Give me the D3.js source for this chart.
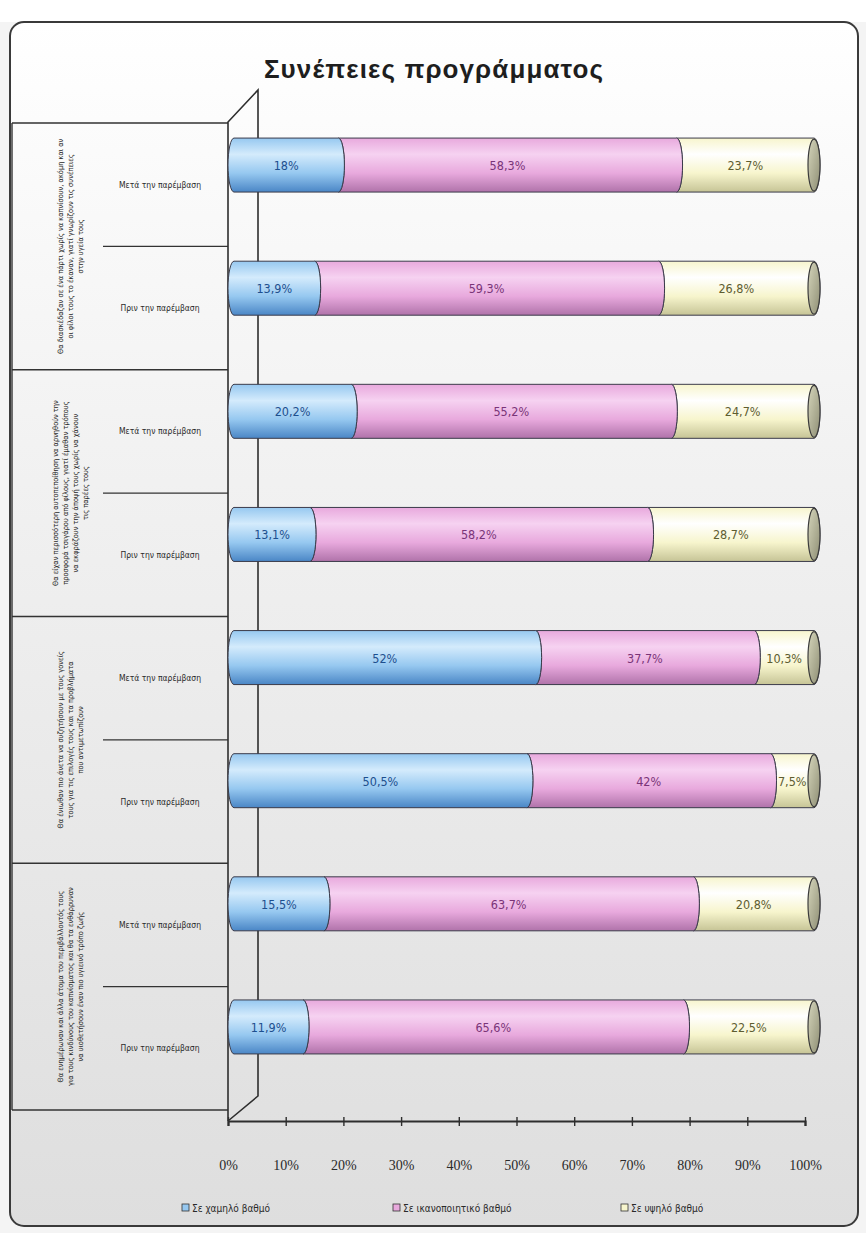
<!DOCTYPE html>
<html>
<head>
<meta charset="utf-8">
<script src="https://cdn.jsdelivr.net/npm/d3@7"></script>
<style>
  body { margin: 0; background: #ffffff; }
  svg { display: block; }
</style>
</head>
<body>
<svg id="chart" width="866" height="1233"></svg>
<script>
// ---- data ----
const chartTitle = "Συνέπειες προγράμματος";
const seriesNames = ["Σε χαμηλό βαθμό", "Σε ικανοποιητικό βαθμό", "Σε υψηλό βαθμό"];
const rowLabels = [
  "Μετά την παρέμβαση", "Πριν την παρέμβαση",
  "Μετά την παρέμβαση", "Πριν την παρέμβαση",
  "Μετά την παρέμβαση", "Πριν την παρέμβαση",
  "Μετά την παρέμβαση", "Πριν την παρέμβαση"
];
const groupLabels = [
  ["Θα διασκέδαζαν σε ένα πάρτι χωρίς να καπνίσουν, ακόμη και αν",
   "οι φίλοι τους το έκαναν, γιατί γνωρίζουν τις συνέπειες",
   "στην υγεία τους"],
  ["Θα είχαν περισσότερη αυτοπεποίθηση να αρνηθούν την",
   "προσφορά τσιγάρου από φίλους, γιατί έμαθαν τρόπους",
   "να εκφράζουν την άποψή τους χωρίς να χάνουν",
   "τις παρέες τους"],
  ["Θα ένιωθαν πιο άνετα να συζητήσουν με τους γονείς",
   "τους για τις επιλογές τους και τα προβλήματα",
   "που αντιμετωπίζουν"],
  ["Θα ενημέρωναν και άλλα άτομα του περιβάλλοντός τους",
   "για τους κινδύνους του καπνίσματος και θα τα ενθάρρυναν",
   "να υιοθετήσουν έναν πιο υγιεινό τρόπο ζωής"]
];
const lowValues  = [18, 13.9, 20.2, 13.1, 52, 50.5, 15.5, 11.9];
const midValues  = [58.3, 59.3, 55.2, 58.2, 37.7, 42, 63.7, 65.6];
const highValues = [23.7, 26.8, 24.7, 28.7, 10.3, 7.5, 20.8, 22.5];
const tickValues = [0, 10, 20, 30, 40, 50, 60, 70, 80, 90, 100];

// ---- setup ----
const svg = d3.select("#chart");
const defs = svg.append("defs");
const rowIds = rowLabels.map((d, i) => i);

const colors = [
  { light: "#d4ebfc", mid: "#96c8f0", dark: "#4a86c6", text: "#1d4f8e" },
  { light: "#f6d2f1", mid: "#e8a9dd", dark: "#b073aa", text: "#7a3478" },
  { light: "#ffffff", mid: "#f7f5cd", dark: "#c6c496", text: "#5e5d30" }
];

// background gradient of the chart area
const bg = defs.append("linearGradient").attr("id", "bgGrad")
  .attr("x1", 0).attr("y1", 0).attr("x2", 0).attr("y2", 1);
bg.append("stop").attr("offset", 0).attr("stop-color", "#ffffff");
bg.append("stop").attr("offset", 0.35).attr("stop-color", "#f2f2f2");
bg.append("stop").attr("offset", 1).attr("stop-color", "#dedede");

colors.forEach((c, i) => {
  const g = defs.append("linearGradient").attr("id", "seg" + i)
    .attr("x1", 0).attr("y1", 0).attr("x2", 0).attr("y2", 1);
  g.append("stop").attr("offset", 0).attr("stop-color", c.mid);
  g.append("stop").attr("offset", 0.3).attr("stop-color", c.light);
  g.append("stop").attr("offset", 0.65).attr("stop-color", c.mid);
  g.append("stop").attr("offset", 1).attr("stop-color", c.dark);
});
const capGrad = defs.append("linearGradient").attr("id", "capGrad")
  .attr("x1", 0).attr("y1", 0).attr("x2", 1).attr("y2", 1);
capGrad.append("stop").attr("offset", 0).attr("stop-color", "#d6d6bc");
capGrad.append("stop").attr("offset", 1).attr("stop-color", "#8e8e74");

// page & frame
svg.append("rect").attr("x", 0).attr("y", 0).attr("width", 866).attr("height", 1233)
  .attr("fill", "#f4f4f4");
svg.append("rect").attr("x", 0).attr("y", 0).attr("width", 866).attr("height", 22)
  .attr("fill", "#ffffff");
svg.append("rect").attr("x", 10).attr("y", 22).attr("width", 848).attr("height", 1204)
  .attr("rx", 14).attr("ry", 14)
  .attr("fill", "url(#bgGrad)").attr("stroke", "#3a3a3a").attr("stroke-width", 2);

// title
svg.append("text")
  .attr("x", 434).attr("y", 78)
  .attr("text-anchor", "middle")
  .attr("font-family", "'Liberation Sans', Arial, sans-serif")
  .attr("font-weight", "bold")
  .attr("font-size", 26)
  .attr("letter-spacing", 1.1)
  .attr("fill", "#1e1e1e")
  .text(chartTitle);

// ---- scales ----
const xAxisScale = d3.scaleLinear().domain([0, 100]).range([228, 805]);
const xBar = d3.scaleLinear().domain([0, 100]).range([234, 814]);
const yBar = d3.scaleBand().domain(rowIds).range([103.5, 1088.5]);
const yFront = d3.scaleBand().domain(rowIds).range([123, 1110]);
const barH = 54;
const rx = 6;

// ---- left category table ----
const table = svg.append("g").attr("stroke", "#333").attr("fill", "none");
const groupCount = groupLabels.length;
for (let g = 0; g <= groupCount; g++) {
  const y = g < groupCount ? yFront(g * 2) : yFront.range()[1];
  table.append("line").attr("x1", 12).attr("x2", 228).attr("y1", y).attr("y2", y)
    .attr("stroke-width", 1.6);
}
for (let g = 0; g < groupCount; g++) {
  const y = yFront(g * 2 + 1);
  table.append("line").attr("x1", 103).attr("x2", 228).attr("y1", y).attr("y2", y)
    .attr("stroke-width", 1.4);
}
table.append("line").attr("x1", 12).attr("x2", 12)
  .attr("y1", yFront(0)).attr("y2", yFront.range()[1]).attr("stroke-width", 1.4);

// row labels
svg.append("g").selectAll("text").data(rowIds).join("text")
  .attr("x", 160)
  .attr("y", d => yFront(d) + yFront.bandwidth() / 2 + 3)
  .attr("text-anchor", "middle")
  .attr("font-family", "'DejaVu Sans Condensed', 'Liberation Sans Narrow', sans-serif")
  .attr("font-size", 8.5)
  .attr("fill", "#2a2a2a")
  .text(d => rowLabels[d]);

// rotated group labels
groupLabels.forEach((lines, g) => {
  const cy = yFront(g * 2) + yFront.bandwidth();
  const n = lines.length;
  const lineGap = 10;
  const cx0 = 70 - (n - 1) * lineGap / 2;
  lines.forEach((line, k) => {
    svg.append("text")
      .attr("transform", `translate(${cx0 + k * lineGap},${cy}) rotate(-90)`)
      .attr("text-anchor", "middle")
      .attr("dy", "0.35em")
      .attr("font-family", "'DejaVu Sans Condensed', 'Liberation Sans Narrow', sans-serif")
      .attr("font-size", 7.4)
      .attr("fill", "#2a2a2a")
      .text(line);
  });
});

// ---- 3D walls ----
const walls = svg.append("g").attr("stroke", "#2e2e2e").attr("fill", "none").attr("stroke-width", 1.6);
walls.append("path").attr("d", "M228,1121 L228,122 L258,90 L258,1096 L228,1121");

// ---- x axis ----
const axisY = 1121;
const xAxis = d3.axisBottom(xAxisScale).tickValues(tickValues)
  .tickSize(5).tickPadding(34).tickFormat(d => d + "%");
const axisG = svg.append("g").attr("transform", `translate(0,${axisY})`).call(xAxis);
axisG.select(".domain").attr("stroke", "#2e2e2e").attr("stroke-width", 2.2);
axisG.selectAll(".tick line").attr("stroke", "#2e2e2e").attr("stroke-width", 1.4)
  .attr("y1", -4);
axisG.selectAll(".tick text")
  .attr("font-family", "'Liberation Serif', 'Times New Roman', serif")
  .attr("font-size", 14)
  .attr("fill", "#2a2a2a");

// ---- stacked cylinder bars ----
const stackData = rowIds.map(i => ({ id: i, vals: [lowValues[i], midValues[i], highValues[i]] }));
function segPath(x0, x1, t, b, first) {
  const ry = (b - t) / 2;
  return `M${x0},${t} L${x1},${t} A${rx},${ry} 0 0 1 ${x1},${b} L${x0},${b} ` +
         `A${rx},${ry} 0 0 ${first ? 1 : 0} ${x0},${t} Z`;
}
const fmt = v => String(v).replace(".", ",") + "%";

const bars = svg.append("g");
stackData.forEach(row => {
  const cy = yBar(row.id) + yBar.bandwidth() / 2;
  const t = cy - barH / 2, b = cy + barH / 2;
  let acc = 0;
  const segs = row.vals.map((v, s) => {
    const seg = { s, v, start: acc, end: acc + v };
    acc += v;
    return seg;
  });
  // right to left, so each concave left edge sits over the neighbour's bulge
  segs.slice().reverse().forEach(seg => {
    bars.append("path")
      .attr("d", segPath(xBar(seg.start), xBar(Math.min(seg.end, 100)), t, b, seg.s === 0))
      .attr("fill", `url(#seg${seg.s})`)
      .attr("stroke", "#3b3b4a").attr("stroke-width", 1);
  });
  // end face
  bars.append("ellipse")
    .attr("cx", xBar(100)).attr("cy", cy)
    .attr("rx", rx).attr("ry", barH / 2 - 1)
    .attr("fill", "url(#capGrad)").attr("stroke", "#3b3b3b").attr("stroke-width", 1.2);
  // value labels
  segs.forEach(seg => {
    bars.append("text")
      .attr("x", xBar((seg.start + Math.min(seg.end, 100)) / 2))
      .attr("y", cy + 5)
      .attr("text-anchor", "middle")
      .attr("font-family", "'DejaVu Sans Condensed', 'Liberation Sans Narrow', sans-serif")
      .attr("font-size", 12.5)
      .attr("fill", colors[seg.s].text)
      .text(fmt(seg.v));
  });
});

// ---- legend ----
const legendX = [182, 393, 621];
const legend = svg.append("g");
seriesNames.forEach((name, i) => {
  legend.append("rect")
    .attr("x", legendX[i]).attr("y", 1204).attr("width", 7).attr("height", 7)
    .attr("fill", colors[i].mid).attr("stroke", "#333").attr("stroke-width", 0.8);
  legend.append("text")
    .attr("x", legendX[i] + 10).attr("y", 1211.5)
    .attr("font-family", "'DejaVu Sans Condensed', 'Liberation Sans Narrow', sans-serif")
    .attr("font-size", 10)
    .attr("fill", "#2a2a2a")
    .text(name);
});
</script>
</body>
</html>
